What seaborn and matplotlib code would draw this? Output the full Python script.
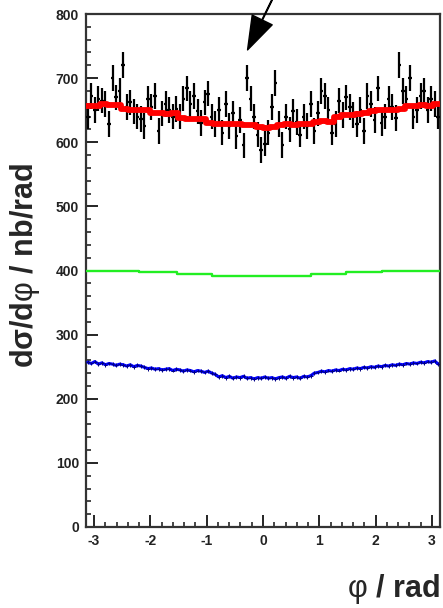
import numpy as np
import pandas as pd
import matplotlib
matplotlib.use("Agg")
import matplotlib.pyplot as plt
import seaborn as sns

# ---------------- data ----------------
# measured data: 100 bins in phi from -pi to pi
data_values = [
    640, 672, 650, 668, 665, 660, 628, 700, 670, 680,
    720, 655, 662, 648, 640, 636, 625, 668, 655, 672,
    618, 645, 660, 650, 640,
    652, 640, 668, 684, 660, 672, 648, 630, 662, 676,
    640, 628, 650, 615, 660, 625, 645, 610, 635, 595,
    700, 668, 640, 612, 588,
    598, 615, 655, 692, 628, 596, 640, 620, 648, 632,
    612, 640, 625, 660, 618, 645, 680, 672, 650, 615,
    628, 665, 642, 670, 655,
    642, 628, 650, 618, 672, 660, 635, 684, 630, 640,
    668, 655, 638, 720, 680, 668, 700, 640, 650, 672,
    680, 650, 668, 660, 640,
]
data_error = 20

# fit (red), 50 bins
fit_values = [
    656, 657, 659, 658, 658, 652, 651, 650, 651, 646,
    645, 644, 645, 638, 637, 636, 637, 630, 629, 628,
    629, 628, 627, 627, 624, 623, 624, 627, 628, 627,
    628, 629, 632, 633, 632, 640, 642, 643, 644, 645,
    648, 650, 651, 650, 652, 656, 657, 658, 657, 659,
]

# green component: step edges and levels
green_edges = [-np.pi, -2.2, -1.53, -0.9, 0.85, 1.48, 2.12, np.pi]
green_values = [400, 397, 394, 391, 394, 397, 400]

# blue component, 100 bins
blue_values = [
    257, 255, 258, 254, 256, 253, 255, 254, 252, 254, 253, 251, 253, 250, 252, 251,
    249, 247, 248, 246, 247, 245, 246, 247, 244, 246, 245, 243, 245, 244, 242, 244,
    243, 241, 243, 240, 238,
    234, 236, 233, 235, 232, 234, 233, 235, 232, 233, 231, 233, 232, 234, 232, 233,
    231, 233, 234, 232, 235, 233, 234, 232, 235, 234, 236,
    240, 241, 243, 242, 244, 243, 245, 244, 246, 245, 247, 246, 248, 247, 249, 248,
    250, 249, 251, 250, 252, 251, 253, 252, 254, 253, 255, 254, 256, 255, 257, 256,
    258, 257, 259, 254,
]
blue_error = 3

x_ticks = [-3, -2, -1, 0, 1, 2, 3]
y_ticks = [0, 100, 200, 300, 400, 500, 600, 700, 800]

# ---------------- style ----------------
sns.set_theme(style="ticks")
plt.rcParams["font.family"] = ["Liberation Sans", "DejaVu Sans"]
plt.rcParams["axes.unicode_minus"] = False
plt.rcParams["mathtext.fontset"] = "custom"
plt.rcParams["mathtext.rm"] = "Liberation Sans"
plt.rcParams["mathtext.bf"] = "Liberation Sans:bold"
plt.rcParams["mathtext.it"] = "Liberation Sans:italic"

fig = plt.figure(figsize=(4.43, 6.08), dpi=100)
ax = fig.add_axes([86 / 443, 1 - 527 / 608, (440 - 86) / 443, (527 - 14) / 608])

lo, hi = -np.pi, np.pi

# black data points
n = len(data_values)
w = (hi - lo) / n
xc = lo + w * (np.arange(n) + 0.5)
ax.errorbar(xc, data_values, xerr=w / 2, yerr=data_error, fmt="none",
            ecolor="black", elinewidth=1.6, capsize=0, zorder=3)

# red fit as step line
nf = len(fit_values)
fe = np.linspace(lo, hi, nf + 1)
df_fit = pd.DataFrame({"x": fe, "y": list(fit_values) + [fit_values[-1]]})
sns.lineplot(data=df_fit, x="x", y="y", ax=ax, color="#ff0000", lw=4.2,
             drawstyle="steps-post", sort=False, estimator=None, zorder=4)

# green step line
df_g = pd.DataFrame({"x": green_edges, "y": list(green_values) + [green_values[-1]]})
sns.lineplot(data=df_g, x="x", y="y", ax=ax, color="#22ee22", lw=1.7,
             drawstyle="steps-post", sort=False, estimator=None, zorder=3)

# blue line with small error bars
nb = len(blue_values)
wb = (hi - lo) / nb
xb = lo + wb * (np.arange(nb) + 0.5)
df_b = pd.DataFrame({"x": xb, "y": blue_values})
sns.lineplot(data=df_b, x="x", y="y", ax=ax, color="#0000ff", lw=2.2,
             sort=False, estimator=None, zorder=3)
ax.errorbar(xb, blue_values, xerr=wb / 2, yerr=blue_error, fmt="none",
            ecolor="#000080", elinewidth=0.7, capsize=0, zorder=4)

# axes
ax.set_xlim(lo, hi)
ax.set_ylim(0, 800)
ax.set_xticks(x_ticks)
ax.set_yticks(y_ticks)
ax.set_xticks(np.arange(-3.0, 3.01, 0.2), minor=True)
ax.set_yticks(np.arange(0, 801, 20), minor=True)
ax.set_xticklabels([str(t) for t in x_ticks], fontsize=10, fontweight="bold", color="#222222")
ax.set_yticklabels([str(t) for t in y_ticks], fontsize=10, fontweight="bold", color="#222222")
ax.tick_params(which="major", direction="in", length=8.5, width=1.2,
               top=False, right=False, pad=5, colors="black")
ax.tick_params(which="minor", direction="in", length=3.8, width=1.2,
               top=False, right=False)
for lab in ax.get_xticklabels() + ax.get_yticklabels():
    lab.set_color("#222222")
for s in ax.spines.values():
    s.set_linewidth(1.6)
    s.set_color("#333333")
ax.set_xlabel("")
ax.set_ylabel("")

# axis titles
fig.text(25 / 443, 1 - 266 / 608,
         r"$\mathbf{d\sigma/d}\mathrm{φ}\mathbf{\ /\ nb/rad}$",
         rotation=90, ha="center", va="center", fontsize=22)
fig.text(440 / 443, 1 - 597 / 608, r"$\mathrm{φ}\mathbf{\ /\ rad}$",
         ha="right", va="baseline", fontsize=22)

# arrow
ax.annotate("", xy=(-0.274, 744), xytext=(0.16, 822),
            arrowprops=dict(facecolor="black", edgecolor="black", width=0.5,
                            headwidth=16, headlength=24, shrink=0.0),
            annotation_clip=False, zorder=6)

fig.savefig("out.png", dpi=100)
